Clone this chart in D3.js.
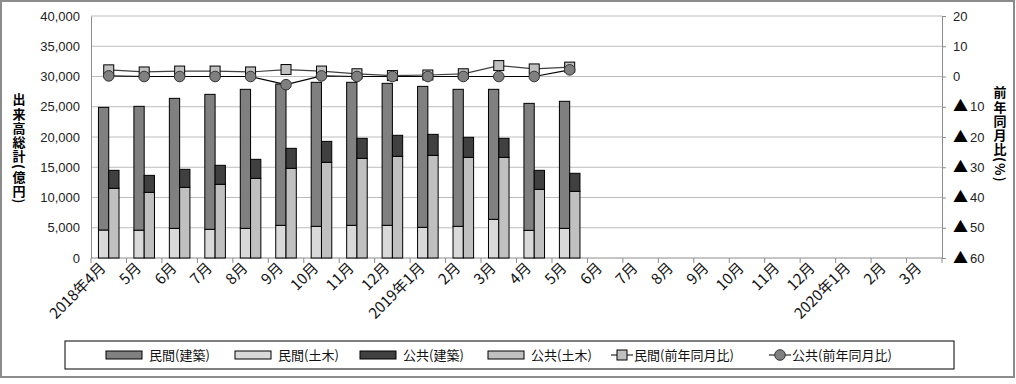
<!DOCTYPE html>
<html>
<head>
<meta charset="utf-8">
<script src="https://cdnjs.cloudflare.com/ajax/libs/d3/7.8.5/d3.min.js"></script>
<style>
  body { margin: 0; background: #fff; }
  text { font-family: "Liberation Sans", "Noto Sans CJK JP", sans-serif; fill: #111; }
  .cjk { font-family: "Noto Sans CJK JP", sans-serif; }
  .vtitle { writing-mode: vertical-rl; text-orientation: mixed; font-size: 13px; font-weight: bold; letter-spacing: 1.2px; }
</style>
</head>
<body>
<div id="vis"></div>
<script>
// month labels (2018年4月 - 2020年3月)
var months = ['2018年4月', '5月', '6月', '7月', '8月', '9月', '10月', '11月', '12月',
              '2019年1月', '2月', '3月', '4月', '5月', '6月', '7月', '8月', '9月', '10月',
              '11月', '12月', '2020年1月', '2月', '3月'];

// 億円
var minkanKenchiku = [20270, 20470, 21490, 22310, 22980, 23360, 23810, 23640, 23470, 23300, 22650, 21490, 20990, 21000];
var minkanDoboku   = [4630, 4600, 4900, 4740, 4900, 5400, 5230, 5400, 5400, 5070, 5230, 6390, 4570, 4900];
var kokyoKenchiku  = [2970, 2810, 2980, 3140, 3140, 3310, 3470, 3310, 3480, 3470, 3310, 3140, 3140, 2980];
var kokyoDoboku    = [11520, 10850, 11680, 12180, 13170, 14820, 15810, 16470, 16800, 16970, 16640, 16640, 11350, 11020];

// 前年同月比 (%)
var minkanYoY = [2.2, 1.5, 1.8, 1.8, 1.5, 2.3, 1.8, 0.9, 0.3, 0.5, 0.9, 3.6, 2.5, 3.1];
var kokyoYoY  = [0.2, 0, 0, 0, 0, -2.7, 0.2, 0, 0, 0, 0, 0, 0, 2.2];

var leftTicks = [0, 5000, 10000, 15000, 20000, 25000, 30000, 35000, 40000];
var rightTicks = [20, 10, 0, -10, -20, -30, -40, -50, -60];

var width = 1016;
var height = 384;
var plot = { left: 91, right: 942, top: 16, bottom: 258 };

var svg = d3.select('#vis')
            .append('svg')
            .attr('width', width)
            .attr('height', height);

// outer frame
svg.append('rect')
   .attr('x', 1).attr('y', 1)
   .attr('width', 1013).attr('height', 376)
   .attr('fill', '#fff')
   .attr('stroke', '#8c8c8c')
   .attr('stroke-width', 2);

var xScale = d3.scaleBand()
               .domain(d3.range(months.length))
               .range([plot.left, plot.right])
               .padding(0);
var yLeft = d3.scaleLinear()
              .domain([0, 40000])
              .range([plot.bottom, plot.top]);
var yRight = d3.scaleLinear()
               .domain([-60, 20])
               .range([plot.bottom, plot.top]);

// gridlines
svg.append('g')
   .selectAll('line')
   .data(leftTicks.slice(1))
   .enter().append('line')
   .attr('x1', plot.left).attr('x2', plot.right)
   .attr('y1', function(d) { return yLeft(d); })
   .attr('y2', function(d) { return yLeft(d); })
   .attr('stroke', '#bdbdbd')
   .attr('stroke-width', 1);

// left axis
var leftAxis = svg.append('g')
                  .attr('transform', 'translate(' + plot.left + ',0)')
                  .call(d3.axisLeft(yLeft).tickValues(leftTicks).tickSize(0).tickPadding(11).tickFormat(d3.format(',')));
leftAxis.select('.domain').attr('stroke', '#8c8c8c');
leftAxis.selectAll('text').style('font-size', '13px').style('fill', '#222');

// right axis
var rightAxis = svg.append('g')
                   .attr('transform', 'translate(' + plot.right + ',0)')
                   .call(d3.axisRight(yRight).tickValues(rightTicks).tickSizeInner(4).tickSizeOuter(0).tickPadding(7)
                           .tickFormat(function(d) { return d < 0 ? -d : d; }));
rightAxis.select('.domain').attr('stroke', '#8c8c8c');
rightAxis.selectAll('line').attr('stroke', '#8c8c8c');
rightAxis.selectAll('text')
         .style('font-size', '13px')
         .style('fill', '#222')
         .each(function(d) {
             if (d < 0) {
                 var t = d3.select(this);
                 t.text('');
                 t.append('tspan').attr('class', 'cjk').style('font-size', '15px').style('fill', '#000').text('▲');
                 t.append('tspan').attr('dx', 2).text(-d);
             }
         });

// x axis (ticks at boundaries)
svg.append('line')
   .attr('x1', plot.left).attr('x2', plot.right)
   .attr('y1', plot.bottom).attr('y2', plot.bottom)
   .attr('stroke', '#8c8c8c');
svg.append('g')
   .selectAll('line')
   .data(d3.range(months.length + 1))
   .enter().append('line')
   .attr('x1', function(d) { return plot.left + d * xScale.bandwidth(); })
   .attr('x2', function(d) { return plot.left + d * xScale.bandwidth(); })
   .attr('y1', plot.bottom).attr('y2', plot.bottom + 5)
   .attr('stroke', '#8c8c8c');

svg.append('g')
   .selectAll('text')
   .data(months)
   .enter().append('text')
   .attr('class', 'cjk')
   .attr('text-anchor', 'end')
   .attr('transform', function(d, i) {
       var cx = xScale(i) + xScale.bandwidth() / 2;
       return 'translate(' + (cx - 2) + ',' + (plot.bottom + 11) + ') rotate(-45)';
   })
   .style('font-size', '15px')
   .text(function(d) { return d; });

// bars
var bw = xScale.bandwidth() * 0.29;
var stacks = [
    { base: minkanDoboku, top: minkanKenchiku, offset: -1, baseColor: '#d9d9d9', topColor: '#808080' },
    { base: kokyoDoboku, top: kokyoKenchiku, offset: 0, baseColor: '#c0c0c0', topColor: '#404040' }
];
stacks.forEach(function(s) {
    var g = svg.append('g');
    g.selectAll('rect.base')
     .data(s.base)
     .enter().append('rect')
     .attr('class', 'base')
     .attr('x', function(d, i) { return xScale(i) + xScale.bandwidth() / 2 + s.offset * bw; })
     .attr('width', bw)
     .attr('y', function(d) { return yLeft(d); })
     .attr('height', function(d) { return yLeft(0) - yLeft(d); })
     .attr('fill', s.baseColor)
     .attr('stroke', '#000');
    g.selectAll('rect.top')
     .data(s.top)
     .enter().append('rect')
     .attr('class', 'top')
     .attr('x', function(d, i) { return xScale(i) + xScale.bandwidth() / 2 + s.offset * bw; })
     .attr('width', bw)
     .attr('y', function(d, i) { return yLeft(d + s.base[i]); })
     .attr('height', function(d) { return yLeft(0) - yLeft(d); })
     .attr('fill', s.topColor)
     .attr('stroke', '#000');
});

// lines
var cxOf = function(i) { return xScale(i) + xScale.bandwidth() / 2; };
var line = d3.line()
             .x(function(d, i) { return cxOf(i); })
             .y(function(d) { return yRight(d); });

svg.append('path')
   .datum(minkanYoY)
   .attr('d', line)
   .attr('fill', 'none')
   .attr('stroke', '#404040')
   .attr('stroke-width', 1.2);
svg.append('g')
   .selectAll('rect')
   .data(minkanYoY)
   .enter().append('rect')
   .attr('x', function(d, i) { return cxOf(i) - 5; })
   .attr('y', function(d) { return yRight(d) - 5; })
   .attr('width', 10).attr('height', 10)
   .attr('fill', '#c0c0c0')
   .attr('stroke', '#000');

svg.append('path')
   .datum(kokyoYoY)
   .attr('d', line)
   .attr('fill', 'none')
   .attr('stroke', '#000')
   .attr('stroke-width', 1.2);
svg.append('g')
   .selectAll('circle')
   .data(kokyoYoY)
   .enter().append('circle')
   .attr('cx', function(d, i) { return cxOf(i); })
   .attr('cy', function(d) { return yRight(d); })
   .attr('r', 5.3)
   .attr('fill', '#808080')
   .attr('stroke', '#333');

// axis titles, vertical
svg.append('text')
   .attr('class', 'cjk vtitle')
   .attr('x', 19).attr('y', 93)
   .style('fill', '#000')
   .text('出来高総計(億円)');
svg.append('text')
   .attr('class', 'cjk vtitle')
   .attr('x', 1000).attr('y', 86)
   .style('fill', '#000')
   .text('前年同月比(%)');

// legend
var legend = svg.append('g');
legend.append('rect')
      .attr('x', 65).attr('y', 341)
      .attr('width', 889).attr('height', 28)
      .attr('fill', '#fff')
      .attr('stroke', '#000');

var legendBars = [
    { label: '民間(建築)', color: '#808080', x: 106 },
    { label: '民間(土木)', color: '#d9d9d9', x: 235 },
    { label: '公共(建築)', color: '#404040', x: 360 },
    { label: '公共(土木)', color: '#c0c0c0', x: 488 }
];
legendBars.forEach(function(d) {
    legend.append('rect')
          .attr('x', d.x).attr('y', 351)
          .attr('width', 36).attr('height', 8)
          .attr('fill', d.color)
          .attr('stroke', '#000');
    legend.append('text')
          .attr('class', 'cjk')
          .attr('x', d.x + 43).attr('y', 360)
          .style('font-size', '13px')
          .text(d.label);
});

var legendLines = [
    { label: '民間(前年同月比)', x: 611, shape: 'square' },
    { label: '公共(前年同月比)', x: 769, shape: 'circle' }
];
legendLines.forEach(function(d) {
    legend.append('line')
          .attr('x1', d.x).attr('x2', d.x + 22)
          .attr('y1', 355).attr('y2', 355)
          .attr('stroke', '#000');
    if (d.shape == 'square') {
        legend.append('rect')
              .attr('x', d.x + 6).attr('y', 350)
              .attr('width', 10).attr('height', 10)
              .attr('fill', '#c0c0c0')
              .attr('stroke', '#000');
    } else {
        legend.append('circle')
              .attr('cx', d.x + 11).attr('cy', 355)
              .attr('r', 5.3)
              .attr('fill', '#808080')
              .attr('stroke', '#333');
    }
    legend.append('text')
          .attr('class', 'cjk')
          .attr('x', d.x + 23).attr('y', 360)
          .style('font-size', '13px')
          .text(d.label);
});
</script>
</body>
</html>
